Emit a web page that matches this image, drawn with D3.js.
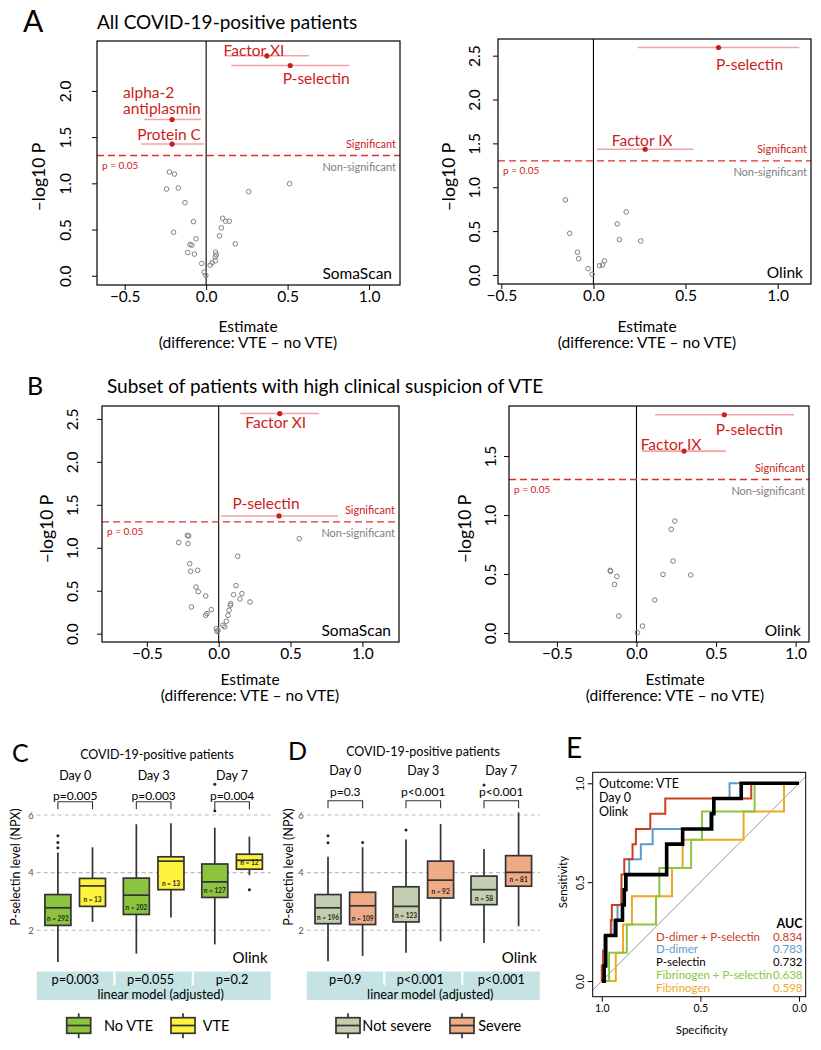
<!DOCTYPE html>
<html>
<head>
<meta charset="utf-8">
<script src="https://cdn.jsdelivr.net/npm/d3@7"></script>
<style>
body{margin:0;background:#fff}
text{font-family:Lato,"Open Sans",sans-serif}
</style>
</head>
<body>
<svg id="fig" width="821" height="1050"></svg>
<script>
// ---------- data: volcano plots ----------
var estTicks = [-0.5, 0, 0.5, 1];

// A, SomaScan (all patients)
var aSomaEst  = [-0.226,-0.195,-0.243,-0.171,-0.130,-0.078,-0.200,-0.062,-0.099,-0.088,-0.113,-0.072,-0.027,-0.012,-0.002,0.512,0.261,0.101,0.119,0.142,0.093,0.082,0.179,0.058,0.062,0.056,0.037,0.025,0.056];
var aSomaLogP = [1.122,1.100,0.939,0.950,0.791,0.586,0.471,0.399,0.338,0.331,0.252,0.234,0.133,0.040,0.004,0.996,0.910,0.622,0.590,0.590,0.518,0.432,0.345,0.255,0.227,0.205,0.140,0.115,0.162];
var aSomaSigName = ["Factor XI","P-selectin","alpha-2\nantiplasmin","Protein C"];
var aSomaSigEst  = [0.373, 0.516, -0.209, -0.209];
var aSomaSigLo   = [0.117, 0.154, -0.38, -0.40];
var aSomaSigHi   = [0.63, 0.88, -0.03, -0.014];
var aSomaSigLogP = [2.38, 2.275, 1.69, 1.425];
var aSomaYTicks  = [0, 0.5, 1, 1.5, 2];

// A, Olink (all patients)
var aOlinkEst  = [-0.152,-0.129,-0.087,-0.080,-0.029,-0.007,0.033,0.049,0.060,0.129,0.178,0.141,0.257];
var aOlinkLogP = [0.856,0.475,0.259,0.186,0.072,0.008,0.106,0.114,0.160,0.582,0.719,0.403,0.388];
var aOlinkSigName = ["P-selectin","Factor IX"];
var aOlinkSigEst  = [0.679, 0.281];
var aOlinkSigLo   = [0.241, 0.018];
var aOlinkSigHi   = [1.118, 0.543];
var aOlinkSigLogP = [2.593, 1.433];
var aOlinkYTicks  = [0, 0.5, 1, 1.5, 2, 2.5];

// B, SomaScan (high suspicion subset)
var bSomaEst  = [-0.278,-0.218,-0.209,-0.213,-0.202,-0.195,-0.146,-0.158,-0.142,-0.090,-0.190,-0.051,-0.090,-0.081,-0.016,-0.012,-0.005,0.030,0.042,0.053,0.065,0.072,0.081,0.084,0.104,0.121,0.132,0.148,0.162,0.218,0.561];
var bSomaLogP = [1.060,1.145,1.137,1.048,0.815,0.726,0.738,0.543,0.489,0.439,0.311,0.280,0.214,0.233,0.058,0.027,0.039,0.097,0.078,0.144,0.214,0.272,0.330,0.349,0.454,0.559,0.901,0.404,0.466,0.369,1.106];
var bSomaSigName = ["Factor XI","P-selectin"];
var bSomaSigEst  = [0.425, 0.420];
var bSomaSigLo   = [0.151, 0.016];
var bSomaSigHi   = [0.698, 0.831];
var bSomaSigLogP = [2.562, 1.370];
var bSomaYTicks  = [0, 0.5, 1, 1.5, 2, 2.5];

// B, Olink (high suspicion subset)
var bOlinkEst  = [-0.165,-0.163,-0.123,-0.138,-0.111,0.006,0.038,0.115,0.167,0.218,0.241,0.230,0.341];
var bOlinkLogP = [0.531,0.523,0.480,0.412,0.144,0.003,0.059,0.280,0.497,0.879,0.949,0.610,0.492];
var bOlinkSigName = ["P-selectin","Factor IX"];
var bOlinkSigEst  = [0.552, 0.299];
var bOlinkSigLo   = [0.117, 0.036];
var bOlinkSigHi   = [0.990, 0.563];
var bOlinkSigLogP = [1.850, 1.542];
var bOlinkYTicks  = [0, 0.5, 1, 1.5];

// ---------- data: box plots ----------
var boxDays = ["Day 0","Day 3","Day 7"];
var vteGroups = ["No VTE","VTE"];
var sevGroups = ["Not severe","Severe"];
var npxTicks = [2, 4, 6];

// order: day0 g1, day0 g2, day3 g1, day3 g2, day7 g1, day7 g2
var cLow  = [0.90, 2.29, 1.19, 2.44, 1.51, 3.91];
var cQ1   = [2.17, 2.83, 2.55, 3.41, 3.14, 4.12];
var cMed  = [2.78, 3.54, 3.22, 4.40, 3.68, 4.43];
var cQ3   = [3.24, 3.80, 3.81, 4.55, 4.30, 4.64];
var cHigh = [4.70, 4.88, 5.68, 5.71, 5.56, 5.25];
var cN    = [292, 13, 202, 13, 127, 12];
var cOut  = [[4.86,5.05,5.28],[],[],[],[6.15,7.07],[3.41]];
var cPair = ["p=0.005","p=0.003","p=0.004"];
var cModel = ["p=0.003","p=0.055","p=0.2"];

var dLow  = [0.93, 1.11, 1.22, 1.62, 1.56, 2.14];
var dQ1   = [2.23, 2.20, 2.29, 3.12, 2.89, 3.53];
var dMed  = [2.78, 2.85, 2.83, 3.74, 3.41, 4.01];
var dQ3   = [3.24, 3.32, 3.51, 4.40, 3.88, 4.59];
var dHigh = [4.55, 4.88, 5.15, 5.69, 4.82, 6.09];
var dN    = [196, 109, 123, 92, 58, 81];
var dOut  = [[5.04,5.28],[5.05],[5.48],[],[7.04],[]];
var dPair = ["p=0.3","p<0.001","p<0.001"];
var dModel = ["p=0.9","p<0.001","p<0.001"];

// ---------- data: ROC ----------
var rocNames = ["D-dimer + P-selectin","D-dimer","P-selectin","Fibrinogen + P-selectin","Fibrinogen"];
var rocAuc   = ["0.834","0.783","0.732","0.638","0.598"];
// 1 - specificity at which each successive case is detected
var rocDdPsel  = [0, 0.007, 0.017, 0.046, 0.051, 0.100, 0.100, 0.114, 0.156, 0.173, 0.246, 0.322, 0.758];
var rocDd      = [0.003, 0.007, 0.012, 0.060, 0.080, 0.100, 0.125, 0.139, 0.198, 0.258, 0.549, 0.571, 0.648];
var rocPsel    = [0.012, 0.020, 0.020, 0.071, 0.105, 0.114, 0.122, 0.329, 0.329, 0.410, 0.557, 0.568, 0.707];
var rocFibPsel = [0.037, 0.127, 0.275, 0.292, 0.453, 0.508, 0.775];
var rocFib     = [0.071, 0.108, 0.153, 0.356, 0.410, 0.719, 0.924];
var rocTicks = [1, 0.5, 0];

var svg = d3.select("#fig");
var red = "#cc1c1c";
var f1 = d3.format(".1f");

function rAxis(sel, size) {
  sel.attr("font-size", size);
  sel.select(".domain").remove();
  sel.selectAll("line").attr("stroke", "#000");
  sel.selectAll("text").attr("fill", "#000");
}

function rotateTicks(sel, off) {
  sel.selectAll("text")
    .attr("x", 0).attr("y", -off).attr("dy", null)
    .attr("text-anchor", "middle")
    .attr("dominant-baseline", "central")
    .attr("transform", "rotate(-90)");
}

function txt(x, y, s, size, opt) {
  opt = opt || {};
  return svg.append("text").attr("x", x).attr("y", y)
    .attr("font-size", size)
    .attr("text-anchor", opt.anchor || "start")
    .attr("dominant-baseline", opt.base || "central")
    .attr("fill", opt.fill || "#000")
    .attr("font-weight", opt.weight || null)
    .text(s);
}

// ---------- volcano ----------
function volcano(o) {
  var x = d3.scaleLinear().domain(o.xDom).range([o.box[0], o.box[2]]);
  var y = d3.scaleLinear().domain(o.yDom).range([o.box[3], o.box[1]]);

  svg.append("g").attr("transform", "translate(0," + o.box[3] + ")")
    .call(d3.axisBottom(x).tickValues(estTicks).tickFormat(f1).tickSize(5).tickPadding(1))
    .call(rAxis, 15.5);
  svg.append("g").attr("transform", "translate(" + o.box[0] + ",0)")
    .call(d3.axisLeft(y).tickValues(o.yTicks).tickFormat(f1).tickSize(5))
    .call(rAxis, 15.5).call(rotateTicks, o.yLabOff);

  // zero line, threshold
  svg.append("line").attr("x1", x(0)).attr("x2", x(0))
    .attr("y1", o.box[1]).attr("y2", o.box[3]).attr("stroke", "#000").attr("stroke-width", 1.1);
  var ty = y(-Math.log10(0.05));
  svg.append("line").attr("x1", o.box[0]).attr("x2", o.box[2]).attr("y1", ty).attr("y2", ty)
    .attr("stroke", "#dd3030").attr("stroke-width", 1.4).attr("stroke-dasharray", "7,4");
  txt(o.box[2] - 4, ty - 12, "Significant", 11, {anchor: "end", fill: red});
  txt(o.box[2] - 4, ty + 11, "Non-significant", 11, {anchor: "end", fill: "#808080"});
  txt(o.box[0] + 5, ty + 9, "p = 0.05", 10, {fill: red});

  // non-significant points
  svg.append("g").selectAll("circle").data(o.est).join("circle")
    .attr("cx", function(d) { return x(d); })
    .attr("cy", function(d, i) { return y(o.logp[i]); })
    .attr("r", 2.3).attr("fill", "none").attr("stroke", "#808080").attr("stroke-width", 1);

  // significant proteins with CI
  var s = o.sig;
  s.est.forEach(function(e, i) {
    var py = y(s.logp[i]);
    svg.append("line").attr("x1", x(s.lo[i])).attr("x2", x(s.hi[i])).attr("y1", py).attr("y2", py)
      .attr("stroke", "#f2a3a3").attr("stroke-width", 1.6);
    svg.append("circle").attr("cx", x(e)).attr("cy", py).attr("r", 2.6).attr("fill", red);
    var lp = o.labels[i];
    var lines = s.names[i].split("\n");
    lines.forEach(function(l, j) {
      txt(x(e) + lp[0], py + lp[1] + j * 16.5, l, 15.5, {anchor: lp[2], fill: red});
    });
  });

  // frame
  svg.append("rect").attr("x", o.box[0]).attr("y", o.box[1])
    .attr("width", o.box[2] - o.box[0]).attr("height", o.box[3] - o.box[1])
    .attr("fill", "none").attr("stroke", "#000").attr("stroke-width", 1.2);

  txt(o.box[2] - 8, o.box[3] - 12, o.platform, 15.5, {anchor: "end"});
  svg.append("text").attr("transform", "translate(" + o.yTitle[0] + "," + o.yTitle[1] + ") rotate(-90)")
    .attr("text-anchor", "middle").attr("dominant-baseline", "central").attr("font-size", 17.5)
    .text("\u2013log10 P");
  txt(o.xTitle[0], o.xTitle[1], "Estimate", 15.5, {anchor: "middle"});
  txt(o.xTitle[0], o.xTitle[1] + 16, "(difference: VTE \u2013 no VTE)", 15.5, {anchor: "middle"});
}

volcano({est: aSomaEst, logp: aSomaLogP,
  sig: {names: aSomaSigName, est: aSomaSigEst, lo: aSomaSigLo, hi: aSomaSigHi, logp: aSomaSigLogP},
  box: [97, 41, 400, 285], xDom: [-0.67, 1.19], yDom: [-0.1, 2.54], yTicks: aSomaYTicks, yLabOff: 32,
  platform: "SomaScan", yTitle: [38, 177], xTitle: [248, 326],
  labels: [[-13, -6, "middle"], [26, 13, "middle"], [-49, -28, "start"], [-3, -10, "middle"]]});

volcano({est: aOlinkEst, logp: aOlinkLogP,
  sig: {names: aOlinkSigName, est: aOlinkSigEst, lo: aOlinkSigLo, hi: aOlinkSigHi, logp: aOlinkSigLogP},
  box: [498, 39, 811, 284], xDom: [-0.518, 1.181], yDom: [-0.103, 2.69], yTicks: aOlinkYTicks, yLabOff: 24,
  platform: "Olink", yTitle: [448, 177], xTitle: [647, 326],
  labels: [[31, 16, "middle"], [-3, -9, "middle"]]});

volcano({est: bSomaEst, logp: bSomaLogP,
  sig: {names: bSomaSigName, est: bSomaSigEst, lo: bSomaSigLo, hi: bSomaSigHi, logp: bSomaSigLogP},
  box: [102, 406, 399, 642], xDom: [-0.812, 1.255], yDom: [-0.097, 2.65], yTicks: bSomaYTicks, yLabOff: 30,
  platform: "SomaScan", yTitle: [46, 529], xTitle: [250, 679],
  labels: [[-4, 8, "middle"], [-13, -13, "middle"]]});

volcano({est: bOlinkEst, logp: bOlinkLogP,
  sig: {names: bOlinkSigName, est: bOlinkSigEst, lo: bOlinkSigLo, hi: bOlinkSigHi, logp: bOlinkSigLogP},
  box: [509, 406, 809, 642], xDom: [-0.801, 1.084], yDom: [-0.076, 1.924], yTicks: bOlinkYTicks, yLabOff: 19,
  platform: "Olink", yTitle: [464, 529], xTitle: [675, 679],
  labels: [[25, 14, "middle"], [-13, -7, "middle"]]});

// titles and panel letters
txt(23, 32, "A", 30, {base: "alphabetic"});
txt(97, 21, "All COVID-19-positive patients", 19);
txt(27, 395, "B", 25, {base: "alphabetic"});
txt(107, 385, "Subset of patients with high clinical suspicion of VTE", 19);

// ---------- box plots ----------
function boxPanel(o) {
  var y = d3.scaleLinear().domain([2, 6]).range([930.3, 815]);
  var day = d3.scalePoint().domain(boxDays).range(o.dayRange);
  var grp = d3.scalePoint().domain(o.groups).range([-17.3, 17.3]);
  var half = 38.5, bw = 26;
  var left = o.dayRange[0] - half, right = o.dayRange[1] + half;

  svg.append("g").selectAll("line").data(npxTicks).join("line")
    .attr("x1", left).attr("x2", right)
    .attr("y1", function(d) { return y(d); }).attr("y2", function(d) { return y(d); })
    .attr("stroke", "#bdbdbd").attr("stroke-width", 1.1).attr("stroke-dasharray", "4,3");
  var ya = svg.append("g").attr("transform", "translate(" + (left - 2) + ",0)")
    .call(d3.axisLeft(y).tickValues(npxTicks).tickFormat(d3.format("d")).tickSize(0).tickPadding(1));
  ya.attr("font-size", 9.5); ya.select(".domain").remove();
  ya.selectAll("text").attr("fill", "#555");

  svg.append("text").attr("transform", "translate(" + o.yTitleX + ",867) rotate(-90)")
    .attr("text-anchor", "middle").attr("dominant-baseline", "central").attr("font-size", 12.5)
    .text("P-selectin level (NPX)");

  var items = [];
  boxDays.forEach(function(dd, di) {
    o.groups.forEach(function(gg, gi) {
      var k = di * 2 + gi;
      items.push({cx: day(dd) + grp(gg), gi: gi, lo: o.low[k], q1: o.q1[k], med: o.med[k],
                  q3: o.q3[k], hi: o.high[k], n: o.n[k], out: o.out[k]});
    });
  });
  var g = svg.append("g").selectAll("g").data(items).join("g");
  g.append("line").attr("x1", function(d) { return d.cx; }).attr("x2", function(d) { return d.cx; })
    .attr("y1", function(d) { return y(d.lo); }).attr("y2", function(d) { return y(d.hi); })
    .attr("stroke", "#333").attr("stroke-width", 1.7);
  g.append("rect").attr("x", function(d) { return d.cx - bw / 2; }).attr("width", bw)
    .attr("y", function(d) { return y(d.q3); })
    .attr("height", function(d) { return y(d.q1) - y(d.q3); })
    .attr("fill", function(d) { return o.colors[d.gi]; })
    .attr("stroke", "#333").attr("stroke-width", 1.7);
  g.append("line").attr("x1", function(d) { return d.cx - bw / 2; }).attr("x2", function(d) { return d.cx + bw / 2; })
    .attr("y1", function(d) { return y(d.med); }).attr("y2", function(d) { return y(d.med); })
    .attr("stroke", "#333").attr("stroke-width", 1.7);
  g.selectAll("circle").data(function(d) { return d.out.map(function(v) { return {cx: d.cx, v: v}; }); })
    .join("circle").attr("cx", function(d) { return d.cx; }).attr("cy", function(d) { return y(d.v); })
    .attr("r", 1.5).attr("fill", "#222");
  g.append("text").attr("x", function(d) { return d.cx; }).attr("y", function(d) { return y(d.q1) - 4; })
    .attr("text-anchor", "middle").attr("font-size", 6.5).attr("font-weight", "bold").attr("fill", "#222")
    .text(function(d) { return "n = " + d.n; });

  // header texts and brackets
  txt(o.titleX, o.titleY, "COVID-19-positive patients", 12.5, {anchor: "middle"});
  boxDays.forEach(function(dd, di) {
    var cx = day(dd);
    txt(cx, o.dayY, dd, 12.5, {anchor: "middle"});
    txt(cx, o.pY, o.pair[di], 12, {anchor: "middle"});
    var x1 = cx + grp(o.groups[0]), x2 = cx + grp(o.groups[1]);
    svg.append("path")
      .attr("d", "M" + x1 + "," + (o.brY + 7.5) + "V" + o.brY + "H" + x2 + "V" + (o.brY + 7.5))
      .attr("fill", "none").attr("stroke", "#333").attr("stroke-width", 1.1);
  });
  txt(right - 3, 957, "Olink", 15, {anchor: "end"});

  // strip with adjusted model p-values
  svg.append("rect").attr("x", left).attr("y", 971.5).attr("width", right - left).attr("height", 28.5)
    .attr("fill", "#c6e3e4");
  [0, 1].forEach(function(i) {
    var gx = (day(boxDays[i]) + day(boxDays[i + 1])) / 2;
    svg.append("line").attr("x1", gx).attr("x2", gx).attr("y1", 971.5).attr("y2", 985)
      .attr("stroke", "#fff").attr("stroke-width", 2.2);
  });
  boxDays.forEach(function(dd, di) {
    txt(day(dd) + (di === 1 ? -3 : 0), 978.8, o.model[di], 12.8, {anchor: "middle"});
  });
  txt((left + right) / 2 + 7, 993.6, "linear model (adjusted)", 12.8, {anchor: "middle"});

  // legend
  o.groups.forEach(function(gg, gi) {
    var lx = o.legX[gi];
    svg.append("line").attr("x1", lx + 12).attr("x2", lx + 12).attr("y1", 1013.3).attr("y2", 1038.3)
      .attr("stroke", "#333").attr("stroke-width", 1.7);
    svg.append("rect").attr("x", lx).attr("y", 1017.7).attr("width", 24).attr("height", 15.6)
      .attr("fill", o.colors[gi]).attr("stroke", "#333").attr("stroke-width", 1.7);
    svg.append("line").attr("x1", lx).attr("x2", lx + 24).attr("y1", 1025.5).attr("y2", 1025.5)
      .attr("stroke", "#333").attr("stroke-width", 1.7);
    txt(o.legTextX[gi], 1025.7, gg, 14.5);
  });
}

boxPanel({groups: vteGroups, colors: ["#8cc43f", "#fff23c"], dayRange: [75.2, 232.1],
  low: cLow, q1: cQ1, med: cMed, q3: cQ3, high: cHigh, n: cN, out: cOut, pair: cPair, model: cModel,
  yTitleX: 15, titleX: 157, titleY: 754, dayY: 775, pY: 795.5, brY: 801.7,
  legX: [66.7, 171], legTextX: [104, 202.7]});

boxPanel({groups: sevGroups, colors: ["#c3ceb0", "#efab86"], dayRange: [345.3, 501.3],
  low: dLow, q1: dQ1, med: dMed, q3: dQ3, high: dHigh, n: dN, out: dOut, pair: dPair, model: dModel,
  yTitleX: 288, titleX: 423, titleY: 751, dayY: 770, pY: 791, brY: 800.7,
  legX: [336, 450], legTextX: [362.3, 478.3]});

txt(12, 762, "C", 25, {base: "alphabetic"});
txt(288, 760, "D", 25, {base: "alphabetic"});

// ---------- ROC ----------
(function() {
  var x = d3.scaleLinear().domain([1.046, -0.034]).range([592.7, 805.7]);
  var y = d3.scaleLinear().domain([-0.079, 1.0556]).range([996.7, 772.3]);
  svg.append("g").attr("transform", "translate(0,996.7)")
    .call(d3.axisBottom(x).tickValues(rocTicks).tickFormat(f1).tickSize(5).tickPadding(3))
    .call(rAxis, 10.5);
  svg.append("g").attr("transform", "translate(592.7,0)")
    .call(d3.axisLeft(y).tickValues(rocTicks).tickFormat(f1).tickSize(5))
    .call(rAxis, 10.5).call(rotateTicks, 13);

  svg.append("line").attr("x1", x(1.046)).attr("y1", y(-0.046)).attr("x2", x(-0.034)).attr("y2", y(1.034))
    .attr("stroke", "#9a9a9a").attr("stroke-width", 1);

  var line = d3.line().x(function(d) { return x(d[0]); }).y(function(d) { return y(d[1]); });
  function steps(fpr) {
    var n = fpr.length, pts = [[1, 0]];
    fpr.forEach(function(f, k) { pts.push([1 - f, k / n]); pts.push([1 - f, (k + 1) / n]); });
    pts.push([0, 1]);
    return pts;
  }
  var curves = [[rocFib, "#f0a824", 2], [rocFibPsel, "#8cc63e", 2], [rocDd, "#5a9bcb", 2],
                [rocDdPsel, "#c8401e", 2], [rocPsel, "#000", 3.6]];
  curves.forEach(function(c) {
    svg.append("path").attr("d", line(steps(c[0]))).attr("fill", "none")
      .attr("stroke", c[1]).attr("stroke-width", c[2]).attr("stroke-linejoin", "miter");
  });

  svg.append("rect").attr("x", 592.7).attr("y", 772.3).attr("width", 213).attr("height", 224.4)
    .attr("fill", "none").attr("stroke", "#000").attr("stroke-width", 1);

  txt(599, 783.5, "Outcome: VTE", 12.5);
  txt(599, 797.5, "Day 0", 12.5);
  txt(599, 811, "Olink", 12.5);
  txt(802.5, 923.5, "AUC", 12.5, {anchor: "end", weight: "bold"});
  var cols = ["#c8401e", "#5a9bcb", "#000", "#8cc63e", "#f0a824"];
  rocNames.forEach(function(nm, i) {
    txt(656, 936 + i * 12.9, nm, 11.5, {fill: cols[i]});
    txt(802.5, 936 + i * 12.9, rocAuc[i], 11.5, {anchor: "end", fill: cols[i]});
  });
  svg.append("text").attr("transform", "translate(562,882) rotate(-90)")
    .attr("text-anchor", "middle").attr("dominant-baseline", "central").attr("font-size", 11.5)
    .text("Sensitivity");
  txt(701.7, 1029.5, "Specificity", 11.5, {anchor: "middle"});
  txt(566, 758, "E", 28, {base: "alphabetic"});
})();
</script>
</body>
</html>
